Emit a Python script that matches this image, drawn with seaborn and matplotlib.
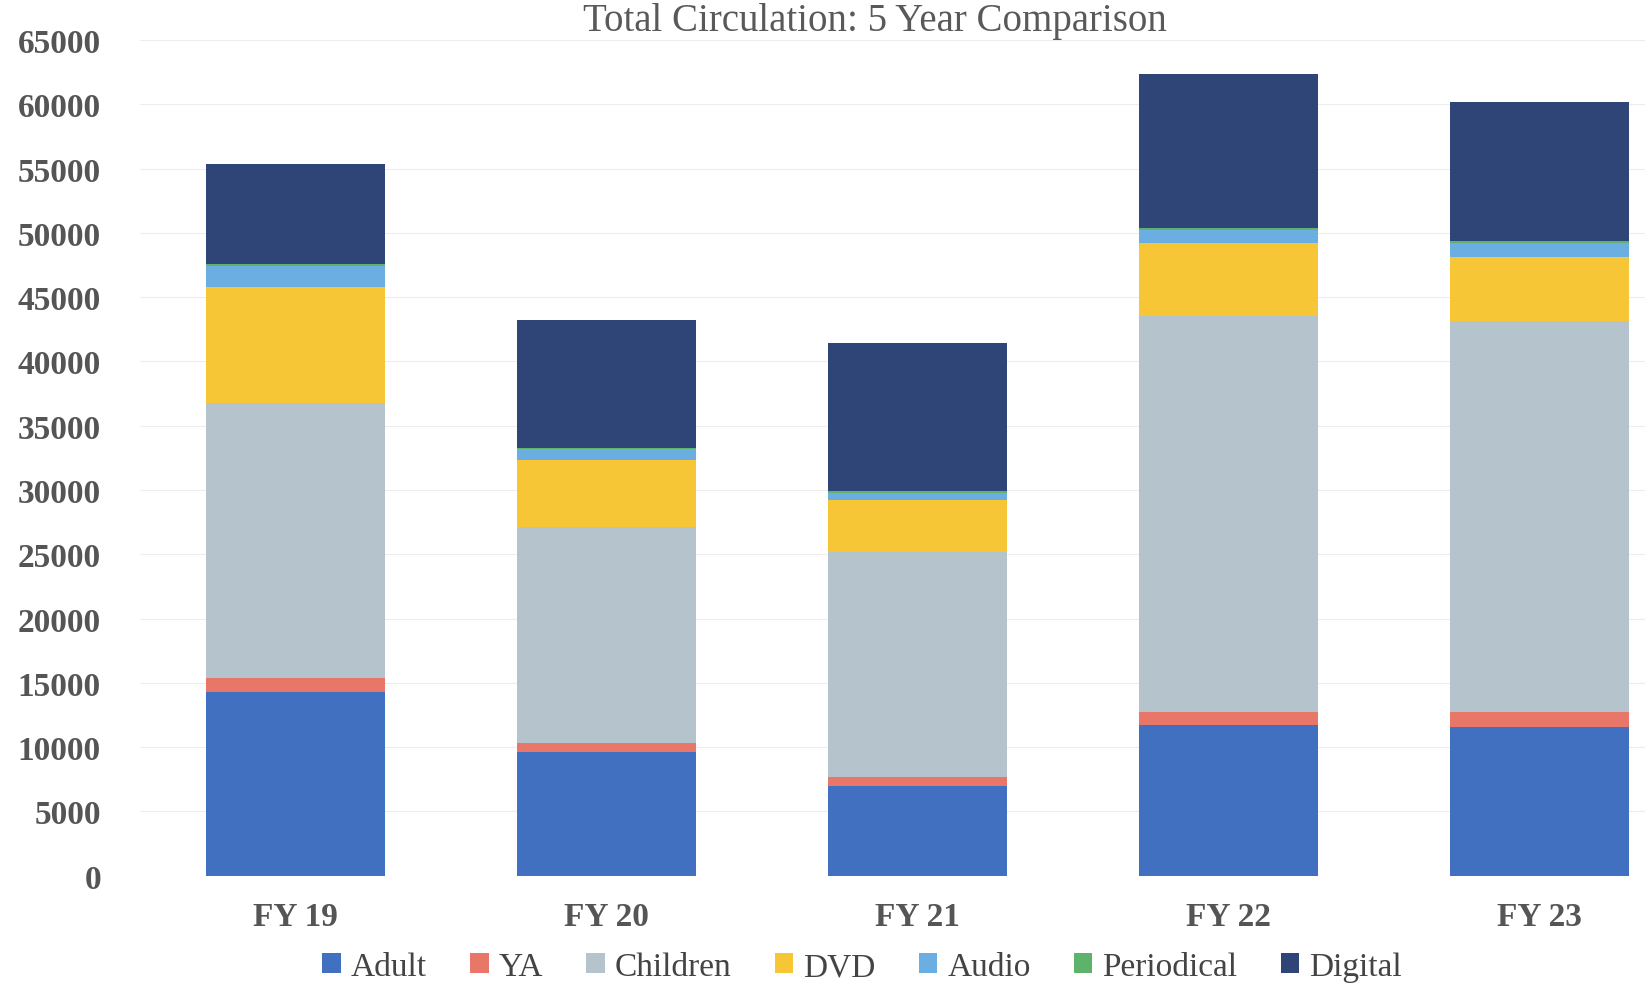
import pandas as pd
import matplotlib
matplotlib.use('Agg')
import matplotlib.pyplot as plt
from matplotlib.patches import Patch
import seaborn as sns

# Chart values
years = ['FY 19', 'FY 20', 'FY 21', 'FY 22', 'FY 23']
adult = [14250, 9600, 7000, 11700, 11550]
ya = [1150, 700, 650, 1000, 1150]
children = [21400, 16800, 17500, 30850, 30450]
dvd = [9000, 5200, 4050, 5700, 4950]
audio = [1600, 900, 600, 1000, 1150]
periodical = [150, 100, 100, 100, 100]
digital = [7800, 9900, 11500, 12000, 10800]

series = ['Adult', 'YA', 'Children', 'DVD', 'Audio', 'Periodical', 'Digital']
values = [adult, ya, children, dvd, audio, periodical, digital]
colors = ['#4170c0', '#e8776a', '#b4c3cc', '#f6c636', '#6aaee2', '#5db36a', '#2f4577']

# Long table with running totals so layers can be overdrawn top-down
rows = []
for i, yr in enumerate(years):
    total = 0
    for name, vals in zip(series, values):
        total += vals[i]
        rows.append({'year': yr, 'series': name, 'cum': total})
df = pd.DataFrame(rows)

sns.set_style('white')
plt.rcParams['font.family'] = ['Liberation Serif', 'DejaVu Serif']

fig = plt.figure(figsize=(16.45, 10.03), dpi=100)
ax = fig.add_axes([0.085, 0.126, 0.915, 0.833])

for name, col in reversed(list(zip(series, colors))):
    sub = df[df['series'] == name]
    sns.barplot(data=sub, x='year', y='cum', color=col, saturation=1,
                width=0.575, order=years, ax=ax, zorder=3,
                edgecolor='none', linewidth=0)

ax.set_ylim(0, 65000)
ax.set_xlim(-0.5, 4.34)
ax.set_yticks(range(0, 65001, 5000))
ax.yaxis.grid(True, color='#ededed', linewidth=0.8, zorder=0)
ax.set_axisbelow(True)
sns.despine(ax=ax, left=True, bottom=True)
ax.set_xlabel('')
ax.set_ylabel('')
ax.tick_params(axis='both', length=0, colors='#555555', labelsize=24)
ax.tick_params(axis='x', pad=18)
ax.tick_params(axis='y', pad=28)
for lbl in ax.get_xticklabels() + ax.get_yticklabels():
    lbl.set_fontweight('bold')

fig.text(0.532, 0.997, 'Total Circulation: 5 Year Comparison', ha='center', va='top',
         fontsize=28, color='#595959')

handles = [Patch(facecolor=c, edgecolor='none', label=s) for s, c in zip(series, colors)]
fig.legend(handles=handles, loc='center', bbox_to_anchor=(0.524, 0.035), ncol=7,
           frameon=False, fontsize=24, handlelength=0.55, handleheight=0.55,
           handletextpad=0.3, columnspacing=1.3, labelcolor='#444444')

fig.savefig('out.png', dpi=100)
